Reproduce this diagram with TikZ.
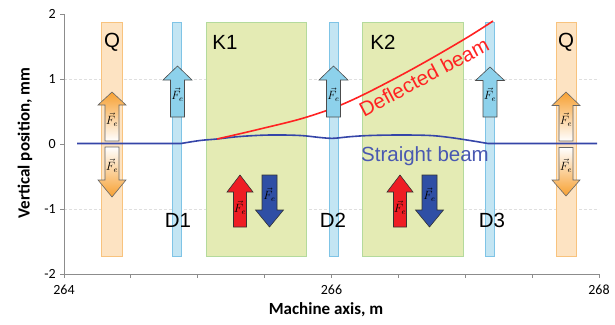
\documentclass[tikz,border=0pt]{standalone}
\usepackage{fontspec}
\setmainfont{Liberation Sans}
\newfontfamily\calib{Carlito}
\definecolor{qfill}{HTML}{FDE3C2}
\definecolor{qline}{HTML}{F8C37E}
\definecolor{dfill}{HTML}{C3E5F3}
\definecolor{dline}{HTML}{7FC4E6}
\definecolor{kfill}{HTML}{E4EBB4}
\definecolor{kline}{HTML}{B4DA9C}
\definecolor{qorange}{HTML}{F7A031}
\definecolor{darr}{HTML}{8DD1EB}
\definecolor{rarr}{HTML}{EE1D24}
\definecolor{barr}{HTML}{2F4FA5}
\definecolor{beamblue}{HTML}{3545A8}
\definecolor{beamred}{HTML}{FF2222}
\definecolor{axisgray}{HTML}{8C8C8C}
\newcommand\BlockArr[7]{% style, cx, tip, headbase, end, halfshaft, halfhead
  \path[#1] ({#2-#6},#5) -- ({#2-#6},#4) -- ({#2-#7},#4) -- (#2,#3) -- ({#2+#7},#4) -- ({#2+#6},#4) -- ({#2+#6},#5) -- cycle;}
\tikzset{
  qband/.style={fill=qfill,draw=qline,line width=0.8pt},
  dband/.style={fill=dfill,draw=dline,line width=0.8pt},
  kband/.style={fill=kfill,draw=kline,line width=0.8pt},
  qup/.style={draw=gray!80!black,line width=0.6pt,top color=qorange,bottom color=white},
  qdown/.style={draw=gray!80!black,line width=0.6pt,top color=white,bottom color=qorange},
  darrow/.style={fill=darr,draw=gray!60!black,line width=0.6pt},
  rarrow/.style={fill=rarr,draw=gray!40!black,line width=0.6pt},
  barrow/.style={fill=barr,draw=gray!40!black,line width=0.6pt},
  felabel/.style={font=\fontsize{12}{12}\selectfont,inner sep=0pt},
  biglabel/.style={font=\fontsize{20.5}{20.5}\selectfont,inner sep=0pt},
  ticklabel/.style={font=\calib\fontsize{14}{14}\selectfont,inner sep=0pt},
  axtitle/.style={font=\calib\bfseries\fontsize{17}{17}\selectfont,inner sep=0pt},
}
\begin{document}
\begin{tikzpicture}[x=1pt,y=-1pt]
\useasboundingbox (0,0) rectangle (615,324);
% grid lines
\draw[gray!25,dash pattern=on 3pt off 2pt,line width=0.5pt] (64,79) -- (599,79) (64,209) -- (599,209);
% axes
\draw[axisgray,line width=0.8pt] (64,14) -- (64,274) -- (599,274);
\foreach \yy in {14,79,144,209,274} \draw[axisgray,line width=0.8pt] (60,\yy) -- (64,\yy);
\foreach \k in {0,...,8} \draw[axisgray,line width=0.8pt] ({64+66.875*\k},274) -- ({64+66.875*\k},278);
\node[ticklabel,anchor=east] (t2) at (56,14) {2};
\node[ticklabel,anchor=east] (t1) at (56,79) {1};
\node[ticklabel,anchor=east] (t0) at (56,144) {0};
\node[ticklabel,anchor=east] (tm1) at (56,209) {-1};
\node[ticklabel,anchor=east] (tm2) at (56,274) {-2};
\node[ticklabel] (x264) at (64,290) {264};
\node[ticklabel] (x266) at (331.5,290) {266};
\node[ticklabel] (x268) at (599,290) {268};
\node[axtitle,rotate=90] (ytitle) at (25,143) {Vertical position, mm};
\node[axtitle] (xtitle) at (326,310) {Machine axis, m};
% bands
\path[qband] (101.5,22) rectangle (122,256);
\path[qband] (556,22) rectangle (576,256);
\path[dband] (172.5,22) rectangle (181.5,256);
\path[dband] (329,22) rectangle (338,256);
\path[dband] (485.5,22) rectangle (494.5,256);
\path[kband] (206,22) rectangle (306.5,256);
\path[kband] (362.5,22) rectangle (463.5,256);
% beams
\draw[beamblue,line width=1.6pt] (77,143.5) -- (181,143.5)
  plot[smooth,tension=0.6] coordinates {(181,143.5) (200,140.5) (217,139) (240,136.5) (270,135) (300,135.5) (320,137.5) (333,138.3) (350,136.7) (370,135.5) (400,135) (430,135.5) (450,137.5) (470,140.5) (488,143.5)}
  -- (597,143.5);
\draw[beamred,line width=1.6pt] plot[smooth,tension=0.6] coordinates {(217,139) (260,129) (307,117) (350,101) (407,72) (463,40) (493,21)};
% arrows
\BlockArr{qup}{112}{92}{105}{141}{7}{14}
\BlockArr{qdown}{112}{197}{180}{147}{7}{14}
\BlockArr{qup}{566}{92}{105.5}{141}{7}{14}
\BlockArr{qdown}{566}{196}{180}{147.5}{7}{14}
\BlockArr{darrow}{177.5}{66}{80}{117}{7}{14.5}
\BlockArr{darrow}{333.5}{66}{80}{117}{7}{14.5}
\BlockArr{darrow}{490}{67}{80.5}{117}{7}{14.5}
\BlockArr{rarrow}{240}{175}{192}{227}{6.5}{13}
\BlockArr{barrow}{269.5}{227}{210}{175}{7.5}{14}
\BlockArr{rarrow}{400}{175}{192}{227}{6.5}{13}
\BlockArr{barrow}{429.5}{227}{210}{175}{7.5}{14}
% Fe labels
\node[felabel] (feq1u) at (112,120) {$\vec{F}_e$};
\node[felabel] (feq1d) at (112,166) {$\vec{F}_e$};
\node[felabel] (feq2u) at (566,120) {$\vec{F}_e$};
\node[felabel] (feq2d) at (566,166) {$\vec{F}_e$};
\node[felabel] (fed1) at (177.5,95) {$\vec{F}_e$};
\node[felabel] (fed2) at (333.5,95) {$\vec{F}_e$};
\node[felabel] (fed3) at (490,95) {$\vec{F}_e$};
\node[felabel] (fek1r) at (240,208) {$\vec{F}_e$};
\node[felabel] (fek1b) at (269.5,195) {$\vec{F}_e$};
\node[felabel] (fek2r) at (400,208) {$\vec{F}_e$};
\node[felabel] (fek2b) at (429.5,195) {$\vec{F}_e$};
% element labels
\node[biglabel] (lq1) at (112,42) {Q};
\node[biglabel] (lk1) at (225,42) {K1};
\node[biglabel] (lk2) at (383,42) {K2};
\node[biglabel] (lq2) at (566,42) {Q};
\node[biglabel] (ld1) at (178,220) {D1};
\node[biglabel] (ld2) at (333,220) {D2};
\node[biglabel] (ld3) at (492,220) {D3};
% beam labels
\node[biglabel,text=beamred,rotate=28] (defl) at (424,77) {Deflected beam};
\node[biglabel,text=beamblue!90!white] (strt) at (425,156) {Straight beam};
\end{tikzpicture}
\end{document}
